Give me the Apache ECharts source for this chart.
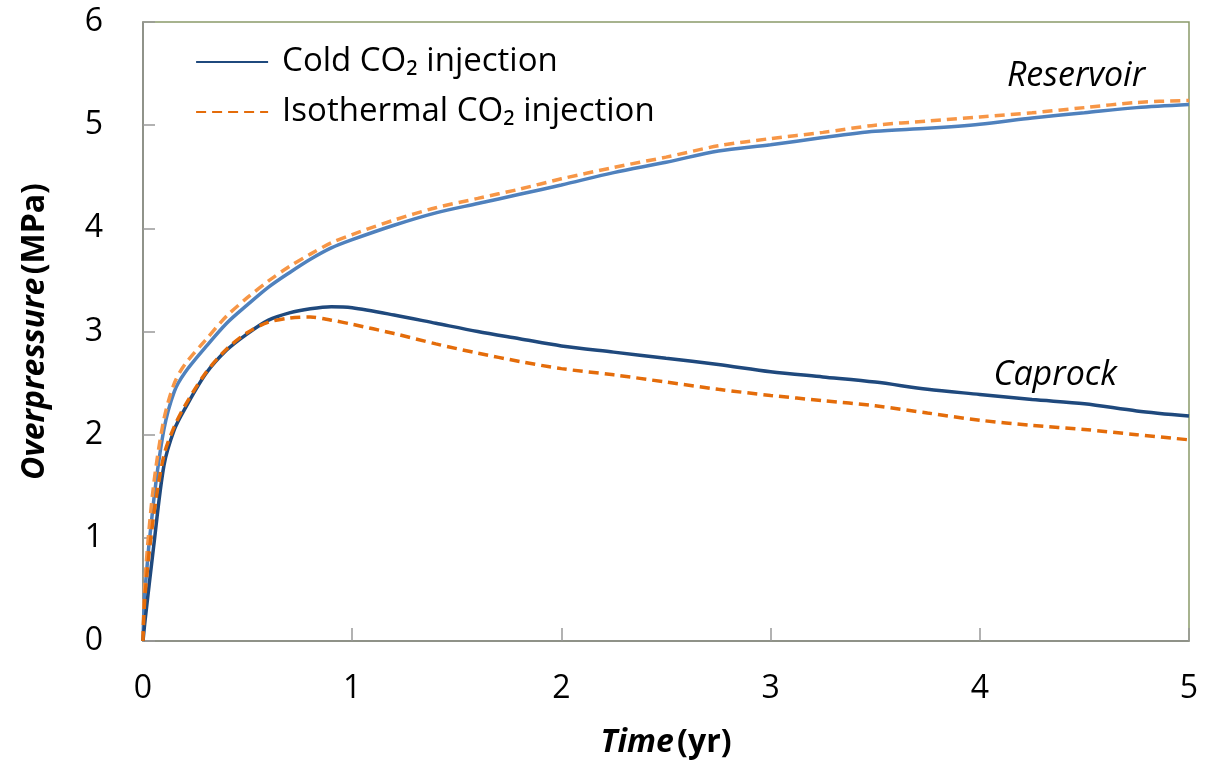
<!DOCTYPE html>
<html>
<head>
<meta charset="utf-8">
<script src="https://cdn.jsdelivr.net/npm/echarts@6/dist/echarts.min.js"></script>
<style>
  html, body { margin: 0; padding: 0; background: #fff; }
  #chart { width: 1209px; height: 769px; }
</style>
</head>
<body>
<div id="chart"></div>
<script>
  // time (yr), shared by every curve
  var time = [0, 0.01, 0.05, 0.1, 0.15, 0.2, 0.3, 0.4, 0.5, 0.6, 0.7, 0.8, 0.9, 1.0,
    1.2, 1.4, 1.6, 1.8, 2.0, 2.25, 2.5, 2.75, 3.0, 3.25, 3.5, 3.75, 4.0, 4.25, 4.5, 4.75, 5.0];

  // overpressure (MPa)
  var reservoirCold = [0, 0.5, 1.34, 2.05, 2.42, 2.60, 2.85, 3.08, 3.26, 3.43, 3.57, 3.70, 3.81, 3.89,
    4.03, 4.15, 4.24, 4.33, 4.42, 4.54, 4.64, 4.75, 4.81, 4.88, 4.94, 4.97, 5.01, 5.07, 5.12, 5.17, 5.20];
  var reservoirIso = [0, 0.6, 1.5, 2.15, 2.5, 2.68, 2.92, 3.15, 3.33, 3.49, 3.63, 3.75, 3.86, 3.94,
    4.08, 4.20, 4.29, 4.38, 4.48, 4.59, 4.69, 4.80, 4.87, 4.93, 5.00, 5.04, 5.08, 5.12, 5.17, 5.22, 5.24];
  var caprockCold = [0, 0.2, 0.9, 1.7, 2.05, 2.25, 2.59, 2.82, 2.98, 3.11, 3.18, 3.22, 3.24, 3.23,
    3.16, 3.08, 3.00, 2.93, 2.86, 2.80, 2.74, 2.68, 2.61, 2.56, 2.51, 2.44, 2.39, 2.34, 2.30, 2.23, 2.18];
  var caprockIso = [0, 0.45, 1.2, 1.8, 2.08, 2.28, 2.60, 2.83, 2.99, 3.09, 3.13, 3.14, 3.11, 3.07,
    2.98, 2.88, 2.79, 2.71, 2.64, 2.58, 2.51, 2.44, 2.38, 2.33, 2.28, 2.21, 2.14, 2.09, 2.05, 2.00, 1.95];

  var legendNames = ['Cold CO\u2082 injection', 'Isothermal CO\u2082 injection'];

  function pairs(ys) {
    return time.map(function (t, i) { return [t, ys[i]]; });
  }

  var font = 'Open Sans, Noto Sans, sans-serif';
  var chart = echarts.init(document.getElementById('chart'));

  function curve(name, ys, color, dashed) {
    return {
      name: name,
      type: 'line',
      data: pairs(ys),
      smooth: 0.3,
      showSymbol: false,
      symbol: 'none',
      lineStyle: { color: color, width: 3.5, type: dashed ? [10, 6] : 'solid' },
      itemStyle: { color: color }
    };
  }

  var nameRich = {
    i: { fontFamily: font, fontSize: 32, fontWeight: 'bold', fontStyle: 'italic', color: '#000' },
    b: { fontFamily: font, fontSize: 32, fontWeight: 'bold', color: '#000' }
  };

  chart.setOption({
    animation: false,
    grid: {
      left: 143, right: 20, top: 22, bottom: 128,
      show: true, borderColor: '#8a9a6a', borderWidth: 1.5
    },
    legend: {
      data: legendNames,
      orient: 'vertical',
      left: 190, top: 37,
      itemWidth: 72, itemHeight: 14, itemGap: 10,
      itemStyle: { opacity: 0 },
      lineStyle: { width: 2.2 },
      textStyle: { fontFamily: font, fontSize: 33, lineHeight: 40, color: '#000', padding: [0, 0, 0, 9] }
    },
    xAxis: {
      type: 'value', min: 0, max: 5, interval: 1,
      name: '{i|Time} {b|(yr)}',
      nameLocation: 'middle', nameGap: 86,
      nameTextStyle: { rich: nameRich },
      axisLine: { lineStyle: { color: '#888', width: 1.5 } },
      axisTick: { inside: true, length: 13, lineStyle: { color: '#999', width: 1.5 } },
      axisLabel: { fontFamily: font, fontSize: 32, color: '#000', margin: 32 },
      splitLine: { show: false }
    },
    yAxis: {
      type: 'value', min: 0, max: 6, interval: 1,
      name: '{i|Overpressure} {b|(MPa)}',
      nameLocation: 'middle', nameGap: 92,
      nameTextStyle: { rich: nameRich },
      axisLine: { show: true, lineStyle: { color: '#888', width: 1.5 } },
      axisTick: { show: true, inside: true, length: 12, lineStyle: { color: '#999', width: 1.5 } },
      axisLabel: { fontFamily: font, fontSize: 32, color: '#000', margin: 40 },
      splitLine: { show: false }
    },
    series: [
      curve('Reservoir cold', reservoirCold, '#4F81BD', false),
      curve('Reservoir isothermal', reservoirIso, '#F79646', true),
      curve(legendNames[0], caprockCold, '#1F497D', false),
      curve(legendNames[1], caprockIso, '#E46C0A', true)
    ]
  });

  // curve labels, placed in data coordinates
  var resPos = chart.convertToPixel({ gridIndex: 0 }, [4.46, 5.47]);
  var capPos = chart.convertToPixel({ gridIndex: 0 }, [4.36, 2.58]);
  function note(text, p) {
    return {
      type: 'text', x: p[0], y: p[1],
      style: {
        text: text, fontFamily: font, fontSize: 34, fontStyle: 'italic', fill: '#000',
        align: 'center', verticalAlign: 'middle'
      }
    };
  }
  chart.setOption({ graphic: [note('Reservoir', resPos), note('Caprock', capPos)] });
</script>
</body>
</html>
